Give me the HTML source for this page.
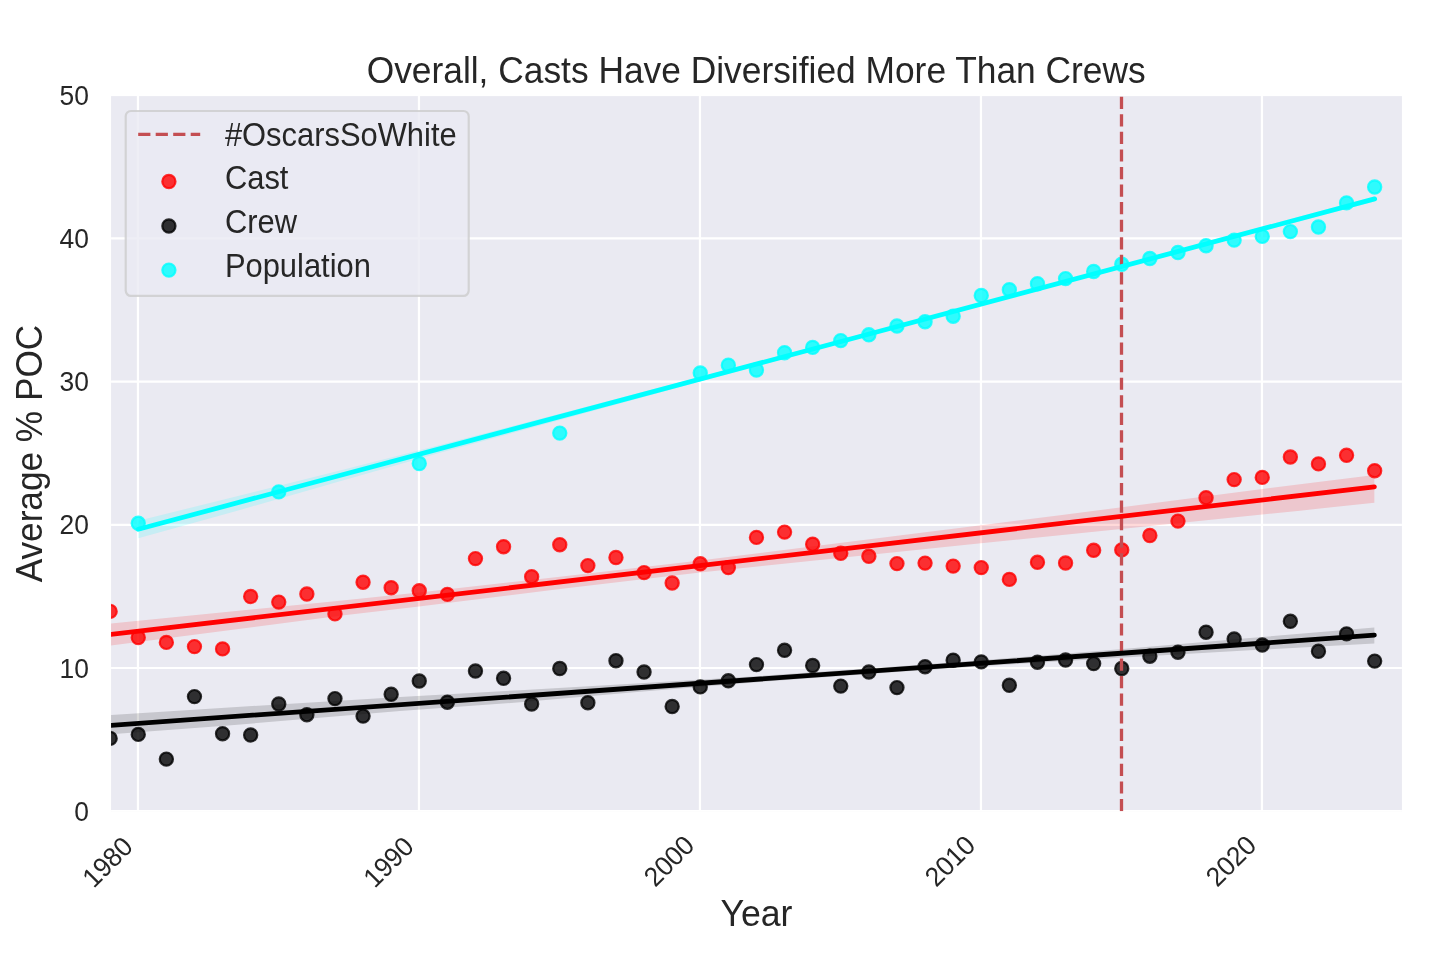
<!DOCTYPE html>
<html lang="en"><head><meta charset="utf-8"><title>Overall, Casts Have Diversified More Than Crews</title>
<style>html,body{margin:0;padding:0;background:#fff;}svg{display:block;}</style></head>
<body>
<svg width="1431" height="954" viewBox="0 0 1431 954" font-family="'Liberation Sans', sans-serif" fill="#262626">
<rect width="1431" height="954" fill="#ffffff"/>
<defs><clipPath id="ax"><rect x="111.05" y="96.1" width="1290.90" height="715.05"/></clipPath></defs>
<rect x="111.05" y="96.1" width="1290.90" height="715.05" fill="#EAEAF2"/>
<g clip-path="url(#ax)">
<g stroke="#ffffff" stroke-width="2.2"><line x1="137.96" x2="137.96" y1="95.3" y2="811.15"/><line x1="418.96" x2="418.96" y1="95.3" y2="811.15"/><line x1="699.96" x2="699.96" y1="95.3" y2="811.15"/><line x1="980.96" x2="980.96" y1="95.3" y2="811.15"/><line x1="1261.96" x2="1261.96" y1="95.3" y2="811.15"/><line x1="111.05" x2="1401.95" y1="811.15" y2="811.15"/><line x1="111.05" x2="1401.95" y1="667.98" y2="667.98"/><line x1="111.05" x2="1401.95" y1="524.81" y2="524.81"/><line x1="111.05" x2="1401.95" y1="381.64" y2="381.64"/><line x1="111.05" x2="1401.95" y1="238.47" y2="238.47"/></g>
<g fill="#ff0000" stroke="#ff0000" fill-opacity="0.8" stroke-opacity="0.8" stroke-width="2.2"><circle cx="110.16" cy="611.40" r="6.6"/><circle cx="138.26" cy="637.50" r="6.6"/><circle cx="166.36" cy="642.40" r="6.6"/><circle cx="194.46" cy="646.60" r="6.6"/><circle cx="222.56" cy="648.90" r="6.6"/><circle cx="250.66" cy="596.50" r="6.6"/><circle cx="278.76" cy="602.10" r="6.6"/><circle cx="306.86" cy="594.00" r="6.6"/><circle cx="334.96" cy="613.90" r="6.6"/><circle cx="363.06" cy="582.20" r="6.6"/><circle cx="391.16" cy="587.70" r="6.6"/><circle cx="419.26" cy="590.80" r="6.6"/><circle cx="447.36" cy="594.40" r="6.6"/><circle cx="475.46" cy="558.60" r="6.6"/><circle cx="503.56" cy="546.70" r="6.6"/><circle cx="531.66" cy="576.70" r="6.6"/><circle cx="559.76" cy="544.70" r="6.6"/><circle cx="587.86" cy="565.60" r="6.6"/><circle cx="615.96" cy="557.50" r="6.6"/><circle cx="644.06" cy="572.60" r="6.6"/><circle cx="672.16" cy="583.00" r="6.6"/><circle cx="700.26" cy="563.80" r="6.6"/><circle cx="728.36" cy="567.60" r="6.6"/><circle cx="756.46" cy="537.40" r="6.6"/><circle cx="784.56" cy="532.10" r="6.6"/><circle cx="812.66" cy="544.20" r="6.6"/><circle cx="840.76" cy="553.30" r="6.6"/><circle cx="868.86" cy="556.30" r="6.6"/><circle cx="896.96" cy="563.60" r="6.6"/><circle cx="925.06" cy="563.10" r="6.6"/><circle cx="953.16" cy="566.10" r="6.6"/><circle cx="981.26" cy="567.60" r="6.6"/><circle cx="1009.36" cy="579.40" r="6.6"/><circle cx="1037.46" cy="562.30" r="6.6"/><circle cx="1065.56" cy="563.00" r="6.6"/><circle cx="1093.66" cy="550.30" r="6.6"/><circle cx="1121.76" cy="549.90" r="6.6"/><circle cx="1149.86" cy="535.50" r="6.6"/><circle cx="1177.96" cy="521.10" r="6.6"/><circle cx="1206.06" cy="497.70" r="6.6"/><circle cx="1234.16" cy="479.60" r="6.6"/><circle cx="1262.26" cy="477.40" r="6.6"/><circle cx="1290.36" cy="457.00" r="6.6"/><circle cx="1318.46" cy="463.90" r="6.6"/><circle cx="1346.56" cy="455.30" r="6.6"/><circle cx="1374.66" cy="470.70" r="6.6"/></g>
<path d="M109.86,623.43 L111.00,623.40 L340.00,600.75 L419.00,592.53 L560.00,576.66 L700.00,560.41 L760.00,553.00 L981.00,525.29 L1060.00,515.26 L1300.00,484.13 L1374.36,474.95 L1374.36,502.65 L1300.00,510.63 L1060.00,535.36 L981.00,543.29 L760.00,566.20 L700.00,572.41 L560.00,588.96 L419.00,606.43 L340.00,615.85 L111.00,645.40 L109.86,645.63Z" fill="#ff0000" fill-opacity="0.15"/>
<g fill="#000000" stroke="#000000" fill-opacity="0.8" stroke-opacity="0.8" stroke-width="2.2"><circle cx="110.16" cy="738.40" r="6.6"/><circle cx="138.26" cy="734.40" r="6.6"/><circle cx="166.36" cy="759.10" r="6.6"/><circle cx="194.46" cy="696.60" r="6.6"/><circle cx="222.56" cy="733.70" r="6.6"/><circle cx="250.66" cy="735.00" r="6.6"/><circle cx="278.76" cy="704.00" r="6.6"/><circle cx="306.86" cy="714.70" r="6.6"/><circle cx="334.96" cy="698.60" r="6.6"/><circle cx="363.06" cy="716.10" r="6.6"/><circle cx="391.16" cy="694.30" r="6.6"/><circle cx="419.26" cy="681.00" r="6.6"/><circle cx="447.36" cy="702.20" r="6.6"/><circle cx="475.46" cy="671.00" r="6.6"/><circle cx="503.56" cy="678.30" r="6.6"/><circle cx="531.66" cy="704.00" r="6.6"/><circle cx="559.76" cy="668.50" r="6.6"/><circle cx="587.86" cy="702.70" r="6.6"/><circle cx="615.96" cy="660.70" r="6.6"/><circle cx="644.06" cy="672.00" r="6.6"/><circle cx="672.16" cy="706.50" r="6.6"/><circle cx="700.26" cy="686.90" r="6.6"/><circle cx="728.36" cy="680.80" r="6.6"/><circle cx="756.46" cy="664.60" r="6.6"/><circle cx="784.56" cy="650.30" r="6.6"/><circle cx="812.66" cy="665.50" r="6.6"/><circle cx="840.76" cy="686.10" r="6.6"/><circle cx="868.86" cy="672.00" r="6.6"/><circle cx="896.96" cy="687.60" r="6.6"/><circle cx="925.06" cy="666.70" r="6.6"/><circle cx="953.16" cy="660.20" r="6.6"/><circle cx="981.26" cy="661.90" r="6.6"/><circle cx="1009.36" cy="685.30" r="6.6"/><circle cx="1037.46" cy="662.20" r="6.6"/><circle cx="1065.56" cy="660.00" r="6.6"/><circle cx="1093.66" cy="663.60" r="6.6"/><circle cx="1121.76" cy="668.50" r="6.6"/><circle cx="1149.86" cy="656.20" r="6.6"/><circle cx="1177.96" cy="652.20" r="6.6"/><circle cx="1206.06" cy="632.20" r="6.6"/><circle cx="1234.16" cy="639.00" r="6.6"/><circle cx="1262.26" cy="645.00" r="6.6"/><circle cx="1290.36" cy="621.30" r="6.6"/><circle cx="1318.46" cy="651.30" r="6.6"/><circle cx="1346.56" cy="633.90" r="6.6"/><circle cx="1374.66" cy="661.10" r="6.6"/></g>
<path d="M109.86,715.08 L111.00,715.00 L225.00,707.77 L400.00,696.89 L520.00,690.13 L640.00,683.37 L760.00,676.01 L900.00,666.23 L1000.00,658.70 L1120.00,649.14 L1250.00,638.07 L1374.36,627.50 L1374.36,643.60 L1250.00,650.37 L1120.00,657.64 L1000.00,665.10 L900.00,671.83 L760.00,682.01 L640.00,691.77 L520.00,702.33 L400.00,711.09 L225.00,725.77 L111.00,734.30 L109.86,734.38Z" fill="#000000" fill-opacity="0.15"/>
<g fill="#00ffff" stroke="#00ffff" fill-opacity="0.8" stroke-opacity="0.8" stroke-width="2.2"><circle cx="138.26" cy="523.30" r="6.6"/><circle cx="278.76" cy="491.90" r="6.6"/><circle cx="419.26" cy="463.50" r="6.6"/><circle cx="559.76" cy="433.10" r="6.6"/><circle cx="700.26" cy="373.00" r="6.6"/><circle cx="728.36" cy="365.20" r="6.6"/><circle cx="756.46" cy="370.00" r="6.6"/><circle cx="784.56" cy="352.70" r="6.6"/><circle cx="812.66" cy="347.40" r="6.6"/><circle cx="840.76" cy="340.60" r="6.6"/><circle cx="868.86" cy="334.80" r="6.6"/><circle cx="896.96" cy="326.00" r="6.6"/><circle cx="925.06" cy="321.70" r="6.6"/><circle cx="953.16" cy="316.20" r="6.6"/><circle cx="981.26" cy="295.50" r="6.6"/><circle cx="1009.36" cy="289.70" r="6.6"/><circle cx="1037.46" cy="283.70" r="6.6"/><circle cx="1065.56" cy="278.60" r="6.6"/><circle cx="1093.66" cy="271.50" r="6.6"/><circle cx="1121.76" cy="264.30" r="6.6"/><circle cx="1149.86" cy="258.50" r="6.6"/><circle cx="1177.96" cy="252.50" r="6.6"/><circle cx="1206.06" cy="245.70" r="6.6"/><circle cx="1234.16" cy="240.10" r="6.6"/><circle cx="1262.26" cy="236.40" r="6.6"/><circle cx="1290.36" cy="231.60" r="6.6"/><circle cx="1318.46" cy="227.00" r="6.6"/><circle cx="1346.56" cy="202.90" r="6.6"/><circle cx="1374.66" cy="187.00" r="6.6"/></g>
<path d="M138.26,520.80 L240.00,495.41 L340.00,470.39 L440.00,444.97 L700.00,376.99 L1000.00,297.42 L1200.00,243.57 L1374.36,196.38 L1374.36,201.58 L1200.00,247.57 L1000.00,300.62 L700.00,381.49 L440.00,452.87 L340.00,481.19 L240.00,509.91 L138.26,538.30Z" fill="#00ffff" fill-opacity="0.15"/>
<line x1="1121.5" x2="1121.5" y1="811.15" y2="95.3" stroke="#C44E52" stroke-width="3.3" stroke-dasharray="12.2 5.355"/>
<line x1="109.86" y1="634.53" x2="1374.36" y2="486.85" stroke="#ff0000" stroke-width="4.8" stroke-linecap="round"/>
<line x1="109.86" y1="725.38" x2="1374.36" y2="635.20" stroke="#000000" stroke-width="4.8" stroke-linecap="round"/>
<line x1="138.26" y1="529.30" x2="1374.66" y2="198.90" stroke="#00ffff" stroke-width="4.8" stroke-linecap="round"/>
</g>
<rect x="125.7" y="111.0" width="343.0" height="184.9" rx="5.3" ry="5.3" fill="#EAEAF2" fill-opacity="0.8" stroke="#cccccc" stroke-opacity="0.8" stroke-width="2.2"/>
<line x1="138.2" x2="200.2" y1="134.4" y2="134.4" stroke="#C44E52" stroke-width="3.3" stroke-dasharray="12.2 5.3"/>
<circle cx="168.9" cy="181.5" r="6.6" fill="#ff0000" stroke="#ff0000" fill-opacity="0.8" stroke-opacity="0.8" stroke-width="2.2"/>
<circle cx="168.9" cy="226.0" r="6.6" fill="#000000" stroke="#000000" fill-opacity="0.8" stroke-opacity="0.8" stroke-width="2.2"/>
<circle cx="168.9" cy="270.1" r="6.6" fill="#00ffff" stroke="#00ffff" fill-opacity="0.8" stroke-opacity="0.8" stroke-width="2.2"/>
<g font-size="30.9px">
<text transform="translate(224.90,145.60) scale(1,1.05)">#OscarsSoWhite</text>
<text transform="translate(224.90,188.50) scale(1,1.05)">Cast</text>
<text transform="translate(224.90,232.80) scale(1,1.05)">Crew</text>
<text transform="translate(224.90,277.40) scale(1,1.05)">Population</text>
</g>
<text transform="translate(756.20,82.50) scale(1,1.05)" font-size="35.35px" text-anchor="middle">Overall, Casts Have Diversified More Than Crews</text>
<text transform="translate(756.40,925.80) scale(1,1.05)" font-size="35.65px" text-anchor="middle">Year</text>
<text transform="translate(42.20,453.60) rotate(-90) scale(1,1.05)" font-size="35.2px" text-anchor="middle">Average % POC</text>
<g font-size="26.4px" text-anchor="end">
<text transform="translate(88.85,820.75) scale(1,1.05)">0</text>
<text transform="translate(88.85,677.58) scale(1,1.05)">10</text>
<text transform="translate(88.85,534.41) scale(1,1.05)">20</text>
<text transform="translate(88.85,391.24) scale(1,1.05)">30</text>
<text transform="translate(88.85,248.07) scale(1,1.05)">40</text>
<text transform="translate(88.85,104.90) scale(1,1.05)">50</text>
</g>
<g font-size="26px" text-anchor="end">
<text transform="translate(134.56,848.20) rotate(-45) scale(1,1.05)">1980</text>
<text transform="translate(415.56,848.20) rotate(-45) scale(1,1.05)">1990</text>
<text transform="translate(696.06,847.10) rotate(-45) scale(1,1.05)">2000</text>
<text transform="translate(977.06,847.10) rotate(-45) scale(1,1.05)">2010</text>
<text transform="translate(1258.06,847.10) rotate(-45) scale(1,1.05)">2020</text>
</g>
</svg>
</body></html>
